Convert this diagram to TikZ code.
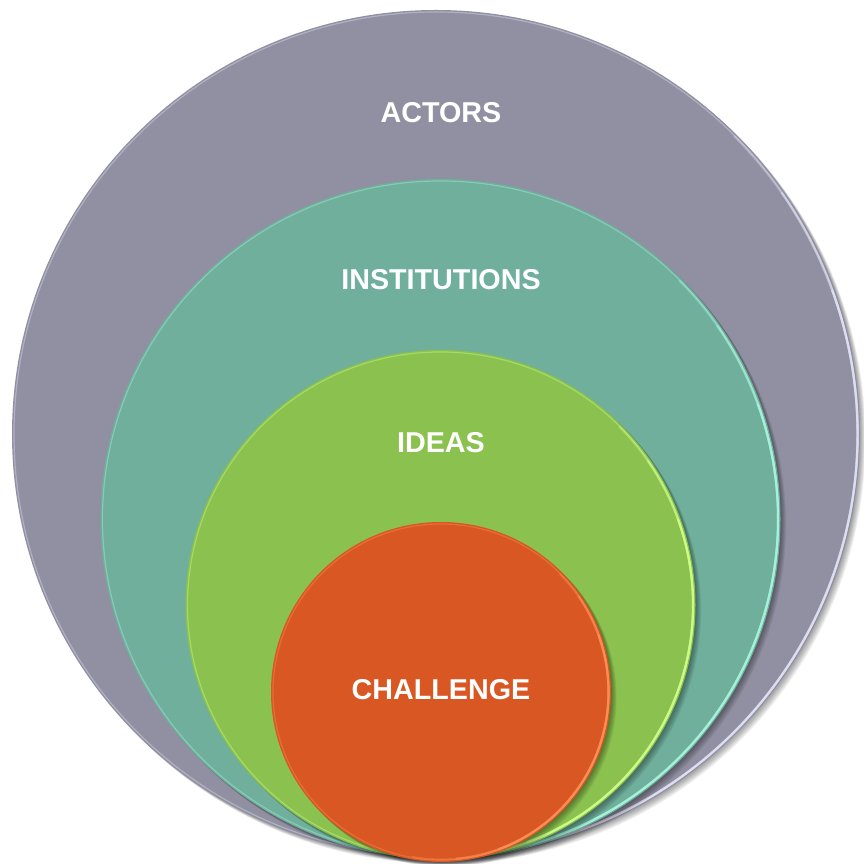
\documentclass[tikz,border=0pt]{standalone}
\usepackage{fontspec}
\setmainfont{Liberation Sans}
\usetikzlibrary{calc}
\definecolor{GREY}{HTML}{9090A2}
\definecolor{GREYRIM}{HTML}{E2E2F6}
\definecolor{TEAL}{HTML}{6FAF9C}
\definecolor{TEALRIM}{HTML}{A8F5DC}
\definecolor{GREEN}{HTML}{8BC14E}
\definecolor{GREEN_RIM}{HTML}{CFFF8A}
\definecolor{ORANGE}{HTML}{D85722}
\definecolor{ORANGERIM}{HTML}{FF9058}
\definecolor{WHITE}{HTML}{FFFFFF}
\begin{document}
\begin{tikzpicture}[x=1pt, y=1pt,
    lbl/.style={WHITE, font=\fontsize{28.7}{34}\selectfont\bfseries}]
    \useasboundingbox (0,0) rectangle (863,864);
    % discs, outer to inner: centre x / centre y / radius / fill / rim
    \foreach \cx/\cy/\r/\col/\rim in {436/430/424/GREY/GREYRIM, 440.5/345/340/TEAL/TEALRIM, 440.5/259/255/GREEN/GREEN_RIM, 441/172/170/ORANGE/ORANGERIM} {
        \coordinate (c) at (\cx,\cy);
        \foreach \s in {1,...,7}
            \fill[black, opacity=0.06] ($(c)+(\s*0.8,-\s*0.8)$) circle[radius=\r];
        \fill[\col] (c) circle[radius=\r];
        \draw[\rim, line width=1.2, opacity=0.4] (c) circle[radius=\r-2];
        % highlight, brightest at the lower right
        \foreach \a/\b/\o in {-100/45/0.35, -85/35/0.5, -70/20/0.8}
            \draw[\rim, line width=2.2, opacity=\o] ($(c)+(\a:\r-2.5)$) arc(\a:\b:\r-2.5);
    }
    \node[lbl] (actors) at (441,751) {ACTORS};
    \node[lbl] (institutions) at (441,584) {INSTITUTIONS};
    \node[lbl] (ideas) at (441,421) {IDEAS};
    \node[lbl] (challenge) at (441,174) {CHALLENGE};
\end{tikzpicture}
\end{document}
